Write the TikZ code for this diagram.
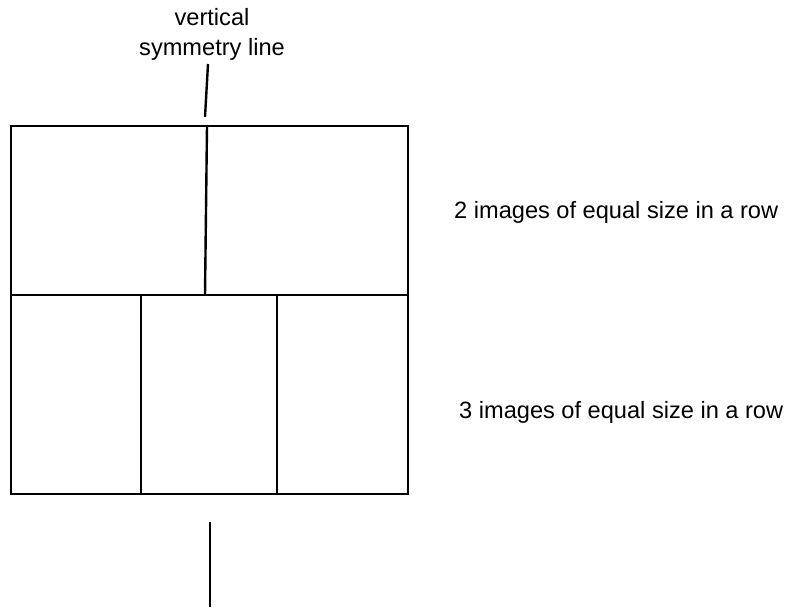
\documentclass[tikz,border=0pt]{standalone}
\usepackage{fontspec}
\setmainfont{Liberation Sans}
\begin{document}
\begin{tikzpicture}[x=0.5pt, y=-0.5pt, line width=1.2pt, every node/.style={font=\fontsize{11.8}{15}\selectfont, inner sep=0pt}]
  \useasboundingbox (0,0) rectangle (791,607);

  % frame
  \coordinate (TL) at (11,126);
  \coordinate (BR) at (408,494);
  \draw (TL) rectangle (BR);
  \draw (11,295) -- (408,295);

  % top row
  \coordinate (T) at (207,126);
  \coordinate (M) at (205,295);
  \draw (T) -- (M);

  % bottom row
  \draw (141,295) -- (141,494);
  \draw (277,295) -- (277,494);

  % symmetry line
  \node[align=center] (sym) at (212,34) {vertical\\symmetry line};
  \coordinate (S1) at (208,64);
  \coordinate (S2) at (205,117);
  \draw (S1) -- (S2);
  \coordinate (B1) at (210,522);
  \coordinate (B2) at (210,607);
  \draw (B1) -- (B2);

  % row labels
  \node[anchor=west] (two) at (453,212) {2 images of equal size in a row};
  \node[anchor=west] (three) at (458,412) {3 images of equal size in a row};
\end{tikzpicture}
\end{document}
